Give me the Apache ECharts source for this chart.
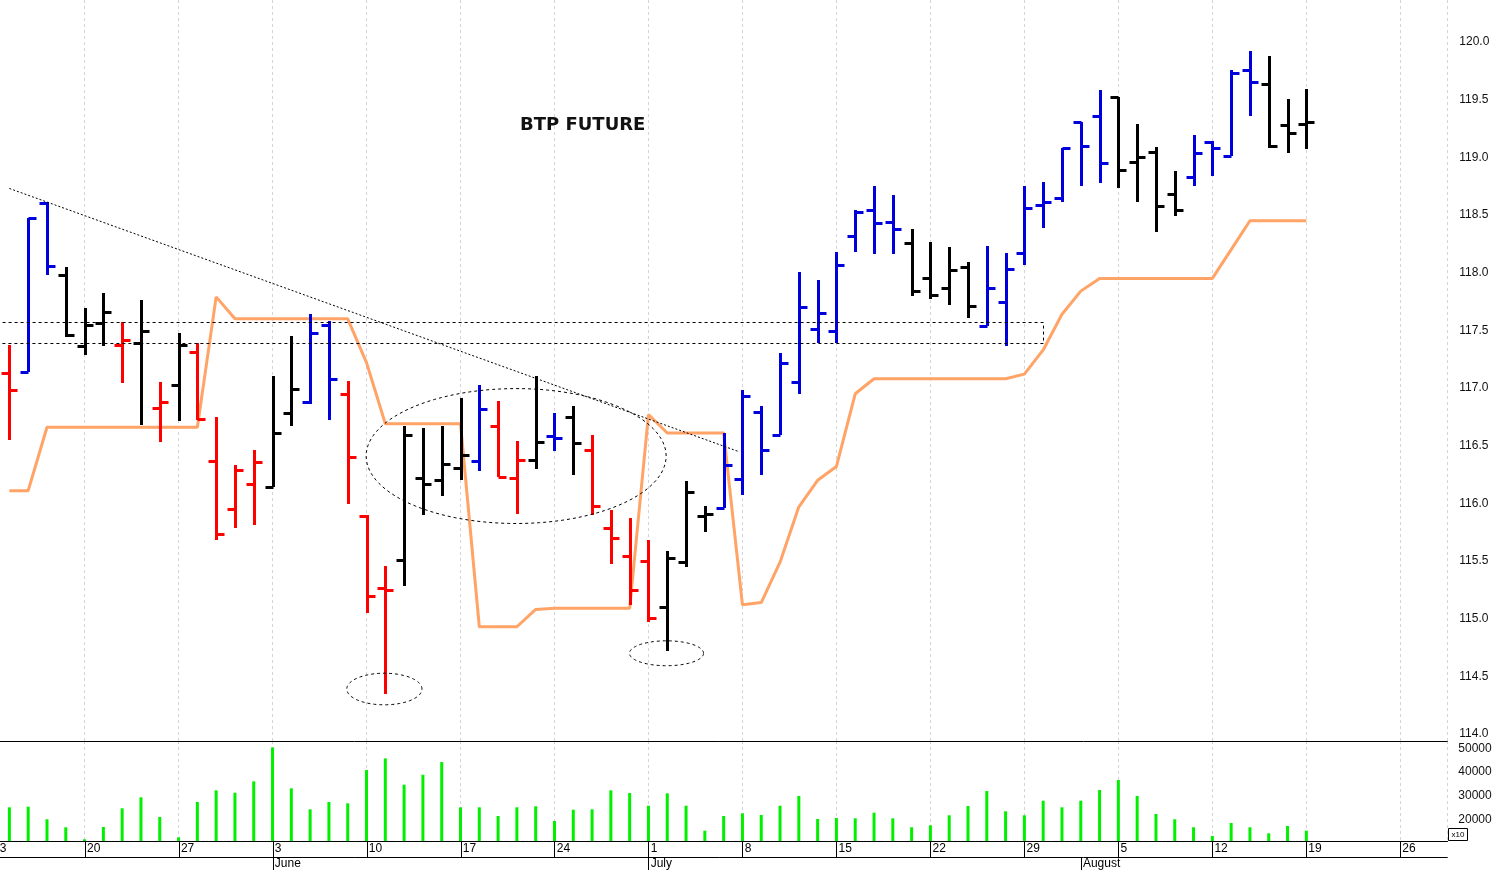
<!DOCTYPE html>
<html><head><meta charset="utf-8">
<script src="https://cdn.jsdelivr.net/npm/echarts@6/dist/echarts.min.js"></script>
<style>html,body{margin:0;padding:0;background:#fff;overflow:hidden;width:1495px;height:870px;position:relative}#chart{position:absolute;left:-10px;top:0;width:1505px;height:870px}</style>
</head><body><div id="chart"></div>
<script>
// ---- calendar (2019 trading sessions shown on the axis) ----
const sessions = ['05-13','05-14','05-15','05-16','05-17','05-20','05-21','05-22','05-23','05-24','05-27','05-28','05-29','05-30','05-31',
'06-03','06-04','06-05','06-06','06-07','06-10','06-11','06-12','06-13','06-14','06-17','06-18','06-19','06-20','06-21','06-24','06-25','06-26','06-27','06-28',
'07-01','07-02','07-03','07-04','07-05','07-08','07-09','07-10','07-11','07-12','07-15','07-16','07-17','07-18','07-19','07-22','07-23','07-24','07-25','07-26','07-29','07-30','07-31',
'08-01','08-02','08-05','08-06','08-07','08-08','08-09','08-12','08-13','08-14','08-15','08-16','08-19','08-20','08-21','08-22','08-23','08-26','08-27','08-28'];
const barDates = ['05-14','05-15','05-16','05-17','05-20','05-21','05-22','05-23','05-24','05-27','05-28','05-29','05-30','05-31',
'06-03','06-04','06-05','06-06','06-07','06-10','06-11','06-12','06-13','06-14','06-17','06-18','06-19','06-20','06-21','06-24','06-25','06-26','06-27','06-28',
'07-01','07-02','07-03','07-04','07-05','07-08','07-09','07-10','07-11','07-12','07-15','07-16','07-17','07-18','07-19','07-22','07-23','07-24','07-25','07-26','07-29','07-30','07-31',
'08-01','08-02','08-05','08-06','08-07','08-08','08-09','08-12','08-13','08-14','08-15','08-16','08-19'];
const weekTicks  = ['05-13','05-20','05-27','06-03','06-10','06-17','06-24','07-01','07-08','07-15','07-22','07-29','08-05','08-12','08-19','08-26'];
const weekLabels = ['13','20','27','3','10','17','24','1','8','15','22','29','5','12','19','26'];
const monthTicks  = ['06-03','07-01','08-01'];
const monthLabels = ['June','July','August'];

// ---- BTP future daily bars ----
const open = [117.13,117.14,118.60,117.98,117.36,117.56,117.37,117.39,116.83,117.03,117.31,116.37,115.95,116.17,116.14,116.78,116.88,117.55,116.95,115.89,115.27,115.51,116.22,116.20,116.31,116.37,116.67,116.22,116.38,116.58,116.75,116.46,115.79,115.54,115.50,115.10,115.49,115.89,115.96,116.21,116.79,116.59,117.05,117.51,117.49,118.32,118.54,118.44,118.26,117.95,117.87,118.05,117.54,117.75,118.17,118.59,118.65,119.31,119.36,119.52,118.96,119.05,118.68,118.83,119.13,119.01,119.76,119.64,119.28,119.29];
const high = [117.37,118.47,118.61,118.05,117.69,117.82,117.57,117.76,117.05,117.48,117.39,116.75,116.33,116.46,117.10,117.45,117.64,117.58,117.06,115.90,115.46,116.67,116.65,116.67,116.91,117.03,116.89,116.54,117.10,116.78,116.84,116.59,115.94,115.87,115.68,115.59,116.19,115.98,116.61,116.98,116.84,117.30,118.01,117.94,118.18,118.54,118.75,118.67,118.38,118.27,118.22,118.09,118.23,118.17,118.75,118.79,119.08,119.31,119.58,119.52,119.29,119.09,118.88,119.19,119.14,119.76,119.92,119.88,119.51,119.59];
const low = [116.55,117.14,117.98,117.44,117.29,117.36,117.04,116.68,116.53,116.71,116.72,115.68,115.79,115.81,116.14,116.67,116.86,116.72,115.99,115.05,114.35,115.28,115.90,116.06,116.20,116.28,116.23,115.91,116.30,116.45,116.25,115.90,115.47,115.12,114.97,114.72,115.45,115.75,115.96,116.07,116.25,116.59,116.95,117.39,117.39,118.18,118.16,118.16,117.80,117.77,117.72,117.61,117.54,117.36,118.07,118.39,118.61,118.75,118.78,118.73,118.61,118.35,118.49,118.75,118.84,119.01,119.36,119.08,119.04,119.07];
const close = [116.98,118.47,118.06,117.46,117.55,117.66,117.42,117.49,116.88,117.37,116.73,115.73,116.29,116.36,116.61,116.99,117.48,117.08,116.40,115.20,115.25,116.59,116.17,116.34,116.42,116.82,116.23,116.38,116.53,116.57,116.52,115.98,115.70,115.25,115.01,115.53,116.10,115.91,116.33,116.93,116.46,117.22,117.70,117.65,118.07,118.53,118.43,118.38,117.84,117.81,118.02,117.71,117.87,118.03,118.56,118.61,119.08,119.10,118.95,118.89,119.00,118.58,118.54,119.04,119.08,119.73,119.65,119.10,119.21,119.31];
const barClass = ['R','B','B','K','K','K','R','K','R','K','R','R','R','R','K','K','B','B','R','R','R','K','K','K','K','B','R','R','K','B','K','R','R','R','R','K','K','K','B','B','B','B','B','B','B','B','B','B','K','K','K','K','B','B','B','B','B','B','B','K','K','K','K','B','B','B','B','K','K','K'];
const stopLine = [116.11,116.11,116.66,116.66,116.66,116.66,116.66,116.66,116.66,116.66,116.66,117.79,117.60,117.60,117.60,117.60,117.60,117.60,117.60,117.22,116.69,116.69,116.69,116.69,116.69,114.93,114.93,114.93,115.08,115.09,115.09,115.09,115.09,115.09,116.77,116.61,116.61,116.61,116.61,115.12,115.14,115.49,115.97,116.20,116.32,116.95,117.08,117.08,117.08,117.08,117.08,117.08,117.08,117.08,117.12,117.33,117.64,117.84,117.95,117.95,117.95,117.95,117.95,117.95,117.95,118.20,118.45,118.45,118.45,118.45];
const volume = [25060,25320,20000,16620,11560,16750,24640,29280,20970,12400,27300,32240,31230,36040,50380,33080,24220,27300,26750,40800,45740,34610,38820,44180,25060,25060,21390,25060,25490,19280,24050,24220,32240,31100,25740,30970,25740,15190,21390,22530,21810,25740,29830,20130,20550,20420,22790,20420,16620,17470,21690,25610,31940,23380,21690,27850,25060,27850,32360,36580,29830,22240,20000,16620,12950,18440,16620,14090,17170,15190];

// ---- axis tick values ----
const priceTicks = [114.0,114.5,115.0,115.5,116.0,116.5,117.0,117.5,118.0,118.5,119.0,119.5,120.0];
const volumeTicks = [20000,30000,40000,50000];
const volumeMinorTicks = [15000,25000,35000,45000];

// ---- hand-drawn annotations (session dates / prices) ----
const trendLine = [{date:'05-14', dx:0, price:118.73}, {date:'07-05', dx:0.78, price:116.45}];
const zoneBox = {from:'05-13', to:'07-30', top:117.575, bottom:117.387};
const ellipses = [
  {date:'06-20', dx:-0.04, price:116.41, rx:7.98, ry:0.585},
  {date:'06-11', dx:-0.05, price:114.39, rx:2.0, ry:0.137},
  {date:'07-02', dx:-0.04, price:114.70, rx:1.97, ry:0.108}
];

const slot = d => sessions.indexOf(d);
const palette = {R:'#FF0000', B:'#0000DD', K:'#000000'};
const font = '"Liberation Sans", Arial, sans-serif';
const gridL = 0.6, gridR = 47.7, xMax = 77.5;
const pMin = 113.9393, pMax = 120.3642, vMin = 10830, vMax = 53080;

const priceMinor = [];
for (let v = 1140; v <= 1203; v++) if (v % 5) priceMinor.push(v / 10);

const ohlcData = barDates.map((d,k)=>[slot(d), open[k], high[k], low[k], close[k]]);

function renderBar(params, api){
  const x = api.value(0);
  const pH = api.coord([x, api.value(2)]);
  const pL = api.coord([x, api.value(3)]);
  const pO = api.coord([x, api.value(1)]);
  const pC = api.coord([x, api.value(4)]);
  const col = palette[barClass[params.dataIndex]];
  const cx = Math.round(pH[0]) + 0.5;
  const oy = Math.round(pO[1]) + 0.5, cy = Math.round(pC[1]) + 0.5;
  const st = {stroke: col, lineWidth: 3};
  return {type:'group', children:[
    {type:'line', shape:{x1:cx, y1:Math.round(pH[1]), x2:cx, y2:Math.round(pL[1])}, style:st},
    {type:'line', shape:{x1:cx-8, y1:oy, x2:cx, y2:oy}, style:st},
    {type:'line', shape:{x1:cx, y1:cy, x2:cx+8, y2:cy}, style:st}
  ]};
}

function renderNotes(params, api){
  const dash = {stroke:'#000', lineWidth:1, fill:null, lineDash:[3,3]};
  const children = [];
  const a = api.coord([slot(trendLine[0].date) + trendLine[0].dx, trendLine[0].price]);
  const b = api.coord([slot(trendLine[1].date) + trendLine[1].dx, trendLine[1].price]);
  children.push({type:'line', shape:{x1:a[0], y1:a[1], x2:b[0], y2:b[1]}, style:{stroke:'#000', lineWidth:1, lineDash:[2,2]}});
  const p1 = api.coord([slot(zoneBox.from), zoneBox.top]);
  const p2 = api.coord([slot(zoneBox.to), zoneBox.bottom]);
  const ry1 = Math.round(p1[1]) + 0.5, ry2 = Math.round(p2[1]) + 0.5, rx2 = Math.round(p2[0]) + 0.5;
  children.push({type:'polyline', shape:{points:[[p1[0],ry1],[rx2,ry1],[rx2,ry2],[p1[0],ry2]]}, style:dash});
  ellipses.forEach(e=>{
    const cxv = slot(e.date) + e.dx;
    const pts = [];
    for (let t = 0; t < 120; t++){
      const ang = t/120*Math.PI*2;
      pts.push(api.coord([cxv + e.rx*Math.cos(ang), e.price + e.ry*Math.sin(ang)]));
    }
    children.push({type:'polygon', shape:{points:pts}, style:dash});
  });
  return {type:'group', children};
}

const chart = echarts.init(document.getElementById('chart'), null, {renderer:'canvas'});
const splitStyle = {show:true, lineStyle:{color:'#D3D3DD', type:[3,3], width:1}};
const blackLine = {show:true, onZero:false, lineStyle:{color:'#000', width:1}};
const hiddenX = g => ({type:'value', gridIndex:g, min:0, max:xMax, show:false});
chart.setOption({
  animation:false,
  backgroundColor:'#fff',
  title:{text:'BTP FUTURE', left:530, top:116, padding:0,
    textStyle:{fontFamily:'"DejaVu Sans", Verdana, sans-serif', fontWeight:'bold', fontSize:18, color:'#111'}},
  grid:[
    {left:gridL, right:gridR, top:0, height:741},
    {left:gridL, right:gridR, top:741, height:100},
    {left:gridL, right:gridR, top:841, height:16},
    {left:gridL, right:gridR, top:0, height:741},
    {left:gridL, right:gridR, top:741, height:100}
  ],
  xAxis:[
    {type:'value', gridIndex:0, min:0, max:xMax, interval:5, axisLine:blackLine, axisTick:{show:false}, axisLabel:{show:false}, splitLine:splitStyle},
    {type:'value', gridIndex:1, min:0, max:xMax, interval:5, axisLine:blackLine, axisTick:{show:false}, axisLabel:{show:false}, splitLine:splitStyle},
    {type:'value', gridIndex:2, position:'top', min:0, max:xMax, axisLine:blackLine,
      axisTick:{show:true, inside:true, length:16, customValues:weekTicks.map(slot), lineStyle:{color:'#000'}},
      axisLabel:{show:true, inside:true, margin:2, customValues:weekTicks.map(slot), align:'left', padding:[0,0,0,2], fontSize:12, fontFamily:font, color:'#000',
        formatter:v=>{const k = weekTicks.map(slot).indexOf(v); return k>=0 ? weekLabels[k] : '';}},
      splitLine:{show:false}},
    {type:'value', gridIndex:2, position:'bottom', min:0, max:xMax, axisLine:blackLine,
      axisTick:{show:true, length:13, customValues:monthTicks.map(slot), lineStyle:{color:'#000'}},
      axisLabel:{show:true, margin:1, customValues:monthTicks.map(slot), align:'left', padding:[0,0,0,2], fontSize:12, fontFamily:font, color:'#000',
        formatter:v=>{const k = monthTicks.map(slot).indexOf(v); return k>=0 ? monthLabels[k] : '';}},
      splitLine:{show:false}},
    hiddenX(3), hiddenX(4)
  ],
  yAxis:[
    {type:'value', gridIndex:0, position:'right', min:pMin, max:pMax,
      axisLine:{show:true, lineStyle:{color:'#000', width:1}},
      axisTick:{show:true, length:6, customValues:priceTicks, lineStyle:{color:'#000'}},
      axisLabel:{show:true, margin:12, customValues:priceTicks, fontSize:12, fontFamily:font, color:'#111', formatter:v=>v.toFixed(1)},
      splitLine:{show:false}},
    {type:'value', gridIndex:1, position:'right', min:vMin, max:vMax,
      axisLine:{show:true, lineStyle:{color:'#000', width:1}},
      axisTick:{show:true, length:6, customValues:volumeTicks, lineStyle:{color:'#000'}},
      axisLabel:{show:true, margin:11, customValues:volumeTicks, fontSize:12, fontFamily:font, color:'#111', formatter:v=>String(Math.round(v))},
      splitLine:{show:false}},
    {type:'value', gridIndex:2, show:false},
    {type:'value', gridIndex:3, position:'right', min:pMin, max:pMax,
      axisLine:{show:false}, axisTick:{show:true, length:3, customValues:priceMinor, lineStyle:{color:'#000'}},
      axisLabel:{show:false}, splitLine:{show:false}},
    {type:'value', gridIndex:4, position:'right', min:vMin, max:vMax,
      axisLine:{show:false}, axisTick:{show:true, length:3, customValues:volumeMinorTicks, lineStyle:{color:'#000'}},
      axisLabel:{show:false}, splitLine:{show:false}}
  ],
  graphic:[
    {type:'group', left:1458, top:828, children:[
      {type:'rect', shape:{x:0, y:0, width:19, height:12}, style:{fill:'#fff', stroke:'#000', lineWidth:1}},
      {type:'text', x:9.5, y:6, style:{text:'x10', fontSize:8, fontFamily:font, fill:'#000', align:'center', verticalAlign:'middle'}}
    ]}
  ],
  series:[
    {type:'line', xAxisIndex:0, yAxisIndex:0, z:2, symbol:'none', data:barDates.map((d,k)=>[slot(d), stopLine[k]]),
      lineStyle:{color:'#FFA366', width:3}},
    {type:'custom', xAxisIndex:0, yAxisIndex:0, z:3, data:ohlcData, renderItem:renderBar, clip:true},
    {type:'custom', xAxisIndex:0, yAxisIndex:0, z:4, data:[[0,116]], renderItem:renderNotes, clip:true, silent:true},
    {type:'bar', xAxisIndex:1, yAxisIndex:1, barWidth:3, data:barDates.map((d,k)=>[slot(d), volume[k]]),
      itemStyle:{color:'#00F000'}}
  ]
});
</script>
</body></html>
